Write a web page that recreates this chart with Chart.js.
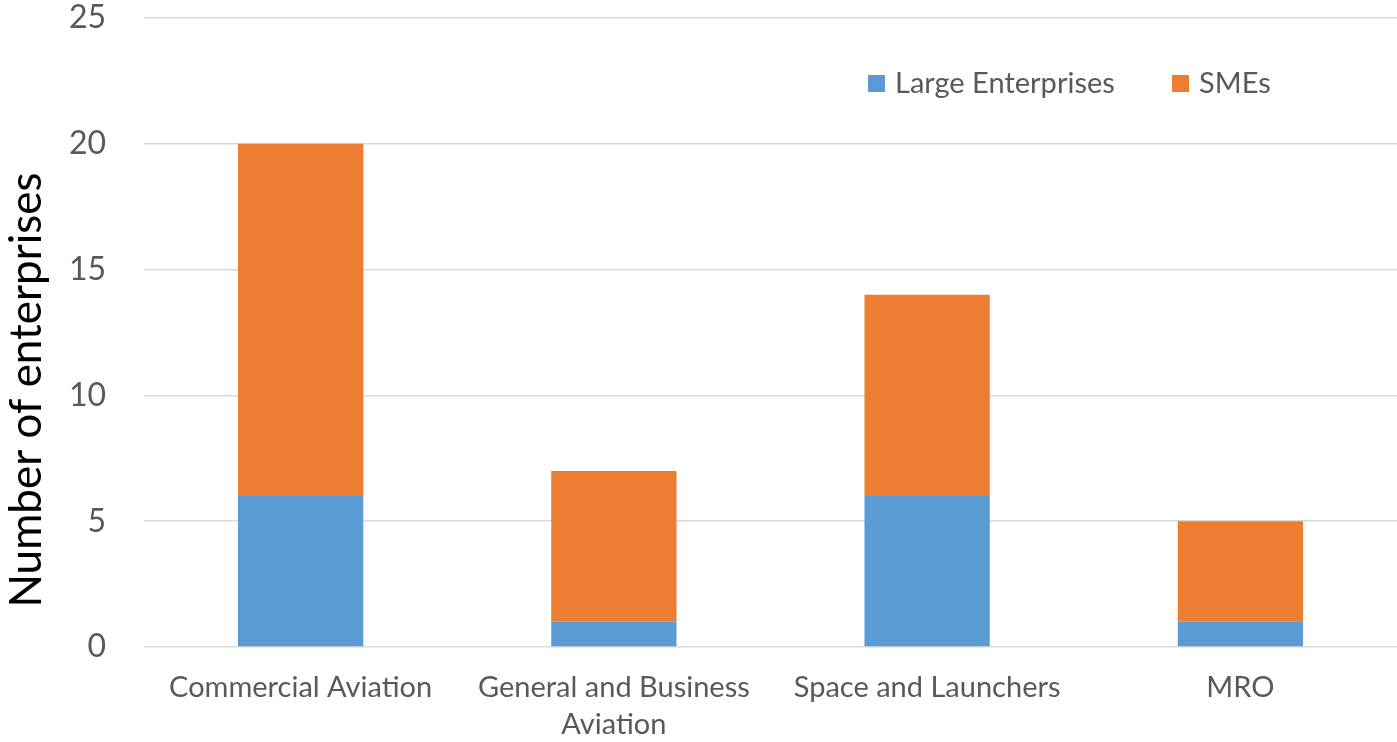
<html>
  <head>
    <meta charset="UTF-8">
    <title>Enterprises by segment</title>
    <script src="https://cdn.jsdelivr.net/npm/chart.js@4.4.0/dist/chart.umd.min.js"></script>
    <style>
      html, body {
        margin: 0;
        padding: 0;
        background: #ffffff;
      }
      .chartWrapper {
        width: 1397px;
        height: 742px;
      }
    </style>
  </head>
  <body>
    <div class="chartWrapper">
      <canvas id="chartEnterprises"></canvas>
    </div>

    <script>
      const categories = [
        'Commercial Aviation',
        ['General and Business', 'Aviation'],
        'Space and Launchers',
        'MRO'
      ];
      const largeEnterprises = [6, 1, 6, 1];
      const smes = [14, 6, 8, 4];
      const yTicks = [0, 5, 10, 15, 20, 25];
      const yTitle = 'Number of enterprises';

      const fontFamily = 'Lato, "Open Sans", sans-serif';
      const textGrey = '#595959';

      // legend sits inside the plot, between the 20 and 25 gridlines
      const insideLegend = {
        id: 'insideLegend',
        afterDraw(chart) {
          const ctx = chart.ctx;
          const area = chart.chartArea;
          const entries = [
            { x: area.left + 724, ds: chart.data.datasets[0] },
            { x: area.left + 1028, ds: chart.data.datasets[1] }
          ];
          const y = area.top + 65;
          ctx.save();
          ctx.font = '29px ' + fontFamily;
          ctx.textBaseline = 'middle';
          ctx.textAlign = 'left';
          for (const e of entries) {
            ctx.fillStyle = e.ds.backgroundColor;
            ctx.fillRect(e.x, y - 8, 17, 17);
            ctx.fillStyle = textGrey;
            ctx.fillText(e.ds.label, e.x + 27, y + 1);
          }
          ctx.restore();
        }
      };

      // y axis title, set a little below the middle of the axis
      const yAxisTitle = {
        id: 'yAxisTitle',
        afterDraw(chart) {
          const ctx = chart.ctx;
          const area = chart.chartArea;
          ctx.save();
          ctx.translate(27, area.bottom - 257);
          ctx.rotate(-Math.PI / 2);
          ctx.font = '44px ' + fontFamily;
          ctx.fillStyle = '#000000';
          ctx.textAlign = 'center';
          ctx.textBaseline = 'middle';
          ctx.fillText(yTitle, 0, 0);
          ctx.restore();
        }
      };

      new Chart(document.getElementById('chartEnterprises'), {
        type: 'bar',
        data: {
          labels: categories,
          datasets: [
            {
              label: 'Large Enterprises',
              data: largeEnterprises,
              backgroundColor: '#5B9BD5',
              borderWidth: 0
            },
            {
              label: 'SMEs',
              data: smes,
              backgroundColor: '#ED7D31',
              borderWidth: 0
            }
          ]
        },
        options: {
          responsive: true,
          maintainAspectRatio: false,
          animation: false,
          categoryPercentage: 1.0,
          barPercentage: 0.4,
          layout: {
            padding: { top: 18, right: 0, bottom: 0, left: 0 }
          },
          scales: {
            x: {
              stacked: true,
              grid: { display: false, drawTicks: false },
              border: { display: false },
              ticks: {
                color: textGrey,
                padding: 23,
                maxRotation: 0,
                autoSkip: false,
                font: { family: fontFamily, size: 29, lineHeight: 1.25 }
              },
              afterFit(scale) {
                scale.height = 95;
                scale.paddingLeft = 0;
                scale.paddingRight = 0;
              }
            },
            y: {
              stacked: true,
              min: 0,
              max: 25,
              afterBuildTicks(scale) {
                scale.ticks = yTicks.map(v => ({ value: v }));
              },
              grid: {
                color: '#d9d9d9',
                lineWidth: 1.5,
                drawTicks: false,
                tickLength: 0
              },
              border: { display: false },
              ticks: {
                color: textGrey,
                padding: 38,
                font: { family: fontFamily, size: 32 }
              },
              afterFit(scale) {
                scale.width = 144;
                scale.paddingTop = 0;
                scale.paddingBottom = 0;
              }
            }
          },
          plugins: {
            legend: { display: false },
            tooltip: { enabled: false }
          }
        },
        plugins: [insideLegend, yAxisTitle]
      });
    </script>
  </body>
</html>
